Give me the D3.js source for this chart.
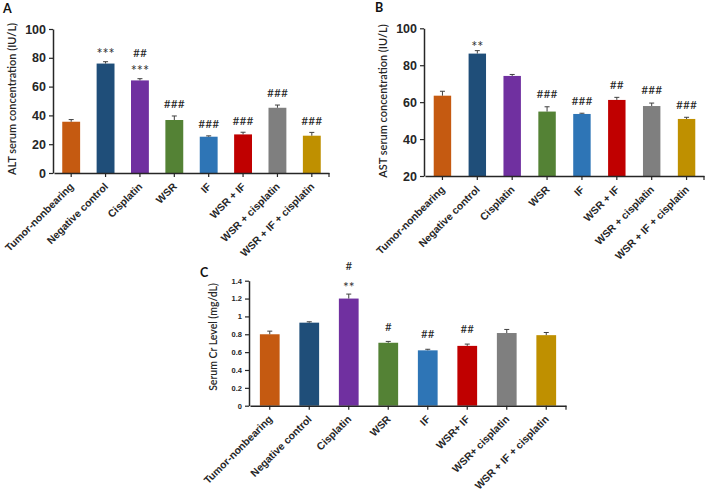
<!DOCTYPE html>
<html><head><meta charset="utf-8">
<script src="https://cdn.jsdelivr.net/npm/d3@7"></script>
<style>
body{margin:0;background:#fff;}
svg{display:block;font-family:Lato,"Open Sans",sans-serif;}
</style></head><body>
<svg id="chart" width="708" height="490"></svg>
<script>
// ---- data ----
const categoriesAB = ["Tumor-nonbearing","Negative control","Cisplatin","WSR","IF","WSR + IF","WSR + cisplatin","WSR + IF + cisplatin"];
const categoriesC  = ["Tumor-nonbearing","Negative control","Cisplatin","WSR","IF","WSR+ IF","WSR+ cisplatin","WSR + IF + cisplatin"];
const barColors = ["#C55A11","#1F4E79","#7030A0","#548235","#2E75B6","#C00000","#7F7F7F","#BF9000"];

const altValues = [35.6, 76.0, 64.3, 36.8, 25.2, 26.8, 45.3, 25.9];
const altErrors = [1.5, 1.3, 1.2, 2.8, 0.6, 1.5, 1.9, 2.3];
const astValues = [63.5, 86.3, 74.2, 54.9, 53.6, 61.2, 57.9, 50.9];
const astErrors = [2.4, 1.6, 0.8, 2.6, 0.4, 1.4, 1.6, 0.9];
const crValues  = [0.80, 0.93, 1.20, 0.705, 0.62, 0.67, 0.814, 0.79];
const crErrors  = [0.035, 0.01, 0.05, 0.015, 0.012, 0.02, 0.04, 0.03];

const annotA = [[], ["***"], ["##","***"], ["###"], ["###"], ["###"], ["###"], ["###"]];
const annotB = [[], ["**"], [], ["###"], ["###"], ["##"], ["###"], ["###"]];
const annotC = [[], [], ["#","**"], ["#"], ["##"], ["##"], [], []];

const ticksA = [0,20,40,60,80,100];
const ticksB = [20,40,60,80,100];
const ticksC = [0,0.2,0.4,0.6,0.8,1,1.2,1.4];

const svg = d3.select("#chart");
const ink = "#262626";

function panel(cfg){
  const g = svg.append("g");
  const x = d3.scaleBand().domain(cfg.cats).range(cfg.xr).paddingInner(cfg.pad).paddingOuter(cfg.pad/2);
  const y = d3.scaleLinear().domain(cfg.dom).range(cfg.yr);
  const y0 = cfg.yr[0];

  // bars
  g.selectAll("rect.bar").data(cfg.vals).join("rect")
    .attr("x",(d,i)=>x(cfg.cats[i])).attr("width",x.bandwidth())
    .attr("y",d=>y(d)).attr("height",d=>y0-y(d))
    .attr("fill",(d,i)=>barColors[i]);

  // error bars
  const eb = g.selectAll("g.eb").data(cfg.vals).join("g");
  eb.append("line")
    .attr("x1",(d,i)=>x(cfg.cats[i])+x.bandwidth()/2).attr("x2",(d,i)=>x(cfg.cats[i])+x.bandwidth()/2)
    .attr("y1",d=>y(d)).attr("y2",(d,i)=>y(d+cfg.errs[i]))
    .attr("stroke","#404040").attr("stroke-width",1);
  eb.append("line")
    .attr("x1",(d,i)=>x(cfg.cats[i])+x.bandwidth()/2-2.5).attr("x2",(d,i)=>x(cfg.cats[i])+x.bandwidth()/2+2.5)
    .attr("y1",(d,i)=>y(d+cfg.errs[i])).attr("y2",(d,i)=>y(d+cfg.errs[i]))
    .attr("stroke","#404040").attr("stroke-width",1);

  // y axis
  const ya = d3.axisLeft(y).tickValues(cfg.ticks).tickSize(4).tickSizeOuter(0).tickPadding(3)
    .tickFormat(d=>String(+d.toFixed(1)));
  const yg = g.append("g").attr("transform",`translate(${cfg.xr[0]-1},0)`).call(ya);
  yg.select(".domain").attr("stroke",ink).attr("stroke-width",1.5);
  yg.selectAll(".tick line").attr("stroke",ink).attr("stroke-width",1.2);
  yg.selectAll("text").attr("fill",ink).attr("font-size",cfg.yfs).attr("font-weight","bold");

  // x axis
  const xa = d3.axisBottom(x).tickSize(4).tickSizeOuter(0).tickFormat("");
  const xg = g.append("g").attr("transform",`translate(0,${y0})`).call(xa);
  xg.select(".domain").attr("stroke",ink).attr("stroke-width",1.5);
  xg.selectAll(".tick line").attr("stroke",ink).attr("stroke-width",1.2);
  xg.append("line").attr("x1",cfg.xr[1]).attr("x2",cfg.xr[1]).attr("y1",0).attr("y2",4)
    .attr("stroke",ink).attr("stroke-width",1.2);
  xg.selectAll(".tick").append("text")
    .attr("text-anchor","end")
    .attr("transform","translate(-2,9) rotate(-45)")
    .attr("fill",ink).attr("font-size",cfg.xfs).attr("font-weight","bold")
    .attr("dy","0.7em")
    .text(d=>d);

  // annotations
  cfg.ann.forEach((lines,i)=>{
    const cx = x(cfg.cats[i])+x.bandwidth()/2;
    const top = y(cfg.vals[i]+cfg.errs[i]);
    const n = lines.length;
    lines.forEach((t,j)=>{
      const fromBottom = n-1-j;
      const isStar = t[0]==="*";
      const fs = isStar ? cfg.afs*1.2 : cfg.afs;
      const center = top - (isStar?cfg.gapS:cfg.gapH) - fromBottom*cfg.lh;
      const base = center + (isStar?0.55:0.36)*fs;
      g.append("text").attr("x",cx).attr("y",base).attr("text-anchor","middle")
        .attr("font-size",fs).attr("fill",isStar?"#333":ink).text(t);
    });
  });

  // axis title
  g.append("text").attr("transform",`translate(${cfg.tx},${cfg.ty}) rotate(-90)`)
    .attr("text-anchor","middle").attr("dy","0.35em")
    .attr("font-size",cfg.tfs).attr("font-weight","600").attr("fill",ink).text(cfg.title);

  // panel letter
  g.append("text").attr("x",cfg.lx).attr("y",cfg.ly).attr("font-size",12.5)
    .attr("font-weight","bold").attr("fill","#111").text(cfg.letter);
}

panel({cats:categoriesAB, vals:altValues, errs:altErrors, ann:annotA, ticks:ticksA,
  dom:[0,100], xr:[54,329], yr:[173,29], pad:0.48, yfs:12.5, xfs:10.4, afs:12, gapS:11, gapH:12, lh:14,
  title:"ALT serum concentration (IU/L)", tx:12, ty:99, tfs:11, letter:"A", lx:3, ly:13});

panel({cats:categoriesAB, vals:astValues, errs:astErrors, ann:annotB, ticks:ticksB,
  dom:[20,100], xr:[425,704], yr:[176,28.3], pad:0.5, yfs:12.5, xfs:10.4, afs:12, gapS:7, gapH:13, lh:14,
  title:"AST serum concentration (IU/L)", tx:383, ty:101, tfs:11, letter:"B", lx:375, ly:12});

panel({cats:categoriesC, vals:crValues, errs:crErrors, ann:annotC, ticks:ticksC,
  dom:[0,1.4], xr:[250,566], yr:[405.7,280.7], pad:0.5, yfs:7.5, xfs:10.4, afs:11.5, gapS:10, gapH:15, lh:13,
  title:"Serum Cr Level (mg/dL)", tx:213, ty:337, tfs:10.5, letter:"C", lx:200, ly:277});
</script>
</body></html>
